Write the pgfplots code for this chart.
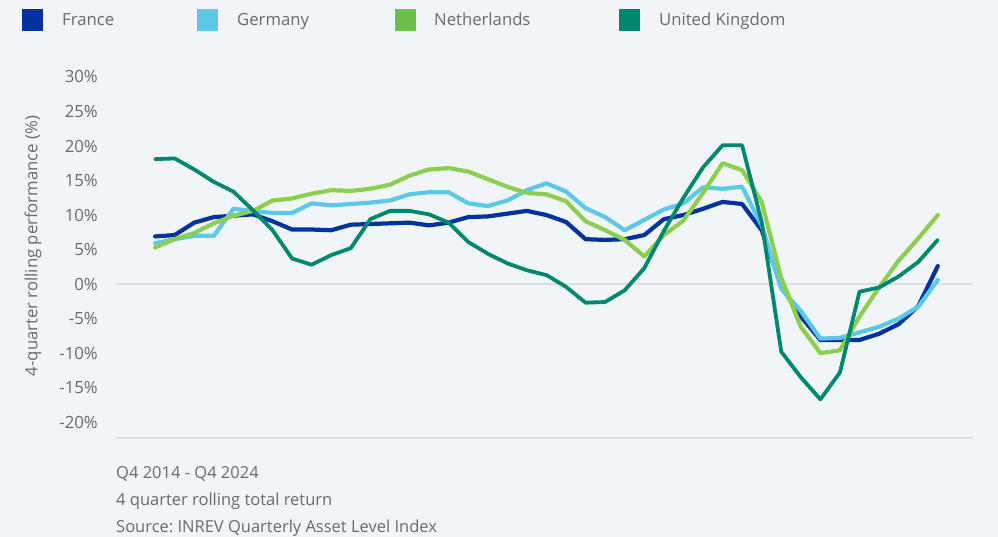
\documentclass[border=0pt]{standalone}
\usepackage{pgfplots}
\usepackage{pgfplotstable}
\pgfplotsset{compat=1.18}
\usepackage{fontspec}
\setmainfont{Open Sans}
\frenchspacing
\definecolor{bg}{HTML}{F2F5F8}
\definecolor{cFR}{HTML}{0033A0}
\definecolor{cDE}{HTML}{5BC8E8}
\definecolor{cNL}{HTML}{8CCF50}
\definecolor{cNLleg}{HTML}{6CC04A}
\definecolor{cUK}{HTML}{00876F}
\definecolor{txt}{HTML}{6A6A6A}
\definecolor{gridc}{HTML}{DEDEDE}

\pgfplotstableread{
FR DE NL UK
6.9 5.9 5.3 18.1
7.1 6.5 6.5 18.2
8.9 7.0 7.4 16.6
9.7 7.0 8.8 14.8
9.9 10.9 9.9 13.4
10.1 10.6 10.6 10.7
9.1 10.3 12.1 7.8
7.9 10.3 12.4 3.7
7.9 11.7 13.1 2.8
7.8 11.4 13.6 4.2
8.6 11.6 13.5 5.2
8.7 11.8 13.8 9.4
8.8 12.1 14.4 10.6
8.9 13.0 15.7 10.6
8.5 13.3 16.6 10.1
8.9 13.3 16.8 8.9
9.7 11.7 16.3 6.1
9.8 11.3 15.2 4.4
10.2 12.1 14.1 3.0
10.6 13.6 13.2 2.0
10.0 14.6 13.0 1.3
9.0 13.4 12.0 -0.4
6.5 11.0 9.1 -2.7
6.4 9.7 7.8 -2.6
6.5 7.8 6.4 -0.9
7.1 9.3 4.0 2.3
9.4 10.8 7.1 7.7
10.0 11.7 9.2 12.5
10.9 14.0 13.2 16.9
11.9 13.8 17.5 20.1
11.6 14.1 16.5 20.1
7.8 8.5 11.9 9.0
-0.3 -0.7 0.9 -9.8
-4.7 -3.9 -6.2 -13.5
-8.1 -7.9 -10.0 -16.7
-8.1 -7.8 -9.6 -12.8
-8.1 -7.0 -4.7 -1.1
-7.2 -6.2 -0.5 -0.5
-5.8 -5.0 3.4 1.1
-3.2 -3.3 6.6 3.2
2.6 0.6 10.0 6.4
}\data

\begin{document}
\begin{tikzpicture}[x=1bp,y=1bp]
\useasboundingbox (0,0) rectangle (998,537);
\fill[bg] (0,0) rectangle (998,537);
% legend
\fill[cFR] (22,506) rectangle (43,528);
\node[anchor=base west, inner sep=0pt, text=txt, font=\fontsize{16.7bp}{19bp}\selectfont] at (62,511) {France};
\fill[cDE] (197,506) rectangle (218,528);
\node[anchor=base west, inner sep=0pt, text=txt, font=\fontsize{16.7bp}{19bp}\selectfont] at (237,511) {Germany};
\fill[cNLleg] (395,506) rectangle (416,528);
\node[anchor=base west, inner sep=0pt, text=txt, font=\fontsize{16.7bp}{19bp}\selectfont] at (434,511) {Netherlands};
\fill[cUK] (619,506) rectangle (640,528);
\node[anchor=base west, inner sep=0pt, text=txt, font=\fontsize{16.7bp}{19bp}\selectfont] at (659,511) {United Kingdom};
% y label
\node[rotate=90, inner sep=0pt, text=txt, font=\fontsize{16.7bp}{19bp}\selectfont] at (33,291) {4-quarter rolling performance (\%)};
\begin{axis}[
  at={(116bp,99bp)}, anchor=south west,
  scale only axis, width=857bp, height=361bp,
  xmin=-2, xmax=41.8, ymin=-22.3, ymax=30,
  axis x line*=bottom, axis y line*=left,
  x axis line style={draw=gridc, line width=1.6bp},
  y axis line style={draw=none},
  xtick=\empty,
  ytick={-20,-15,-10,-5,0,5,10,15,20,25,30},
  yticklabels={-20\%,-15\%,-10\%,-5\%,0\%,5\%,10\%,15\%,20\%,25\%,30\%},
  major tick length=0pt,
  yticklabel style={anchor=east, inner sep=0pt, xshift=-18bp, text=txt, font=\fontsize{16.8bp}{19bp}\selectfont},
  extra y ticks={0}, extra y tick labels={},
  extra y tick style={grid=major, major grid style={draw=gridc, line width=2.4bp}},
  clip=false,
]
\addplot[cFR, line width=4.2bp, line join=round, line cap=round] table[x expr=\coordindex, y=FR] {\data};
\addplot[cDE, line width=4.2bp, line join=round, line cap=round] table[x expr=\coordindex, y=DE] {\data};
\addplot[cNL, line width=4.2bp, line join=round, line cap=round] table[x expr=\coordindex, y=NL] {\data};
\addplot[cUK, line width=3.8bp, line join=round, line cap=round] table[x expr=\coordindex, y=UK] {\data};
\end{axis}
% footnotes
\node[anchor=base west, inner sep=0pt, text=txt, font=\fontsize{16.5bp}{19bp}\selectfont] at (116,58) {Q4 2014 - Q4 2024};
\node[anchor=base west, inner sep=0pt, text=txt, font=\fontsize{16.5bp}{19bp}\selectfont] at (116,31) {4 quarter rolling total return};
\node[anchor=base west, inner sep=0pt, text=txt, font=\fontsize{16.5bp}{19bp}\selectfont] at (116,4) {Source: INREV Quarterly Asset Level Index};
\end{tikzpicture}
\end{document}
